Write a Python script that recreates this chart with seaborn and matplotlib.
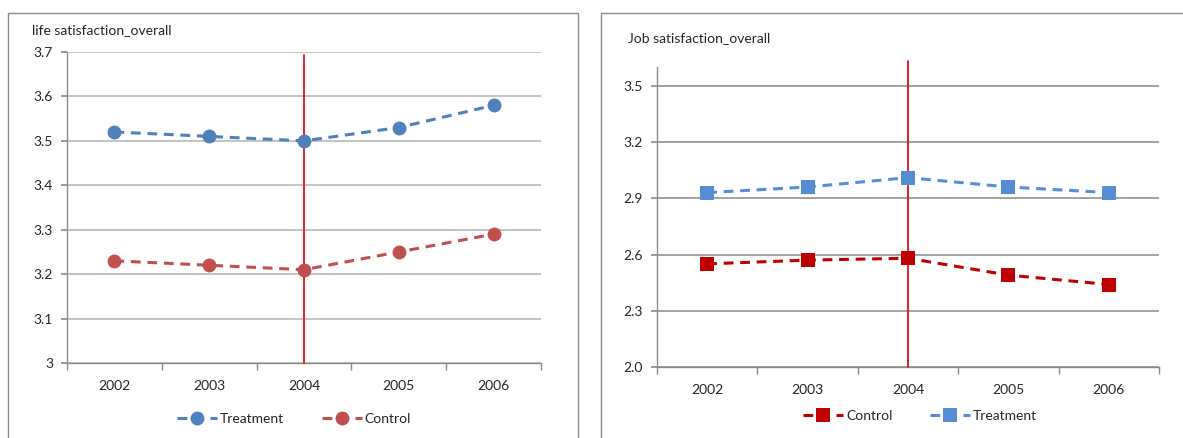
import matplotlib
matplotlib.use("Agg")
import matplotlib.pyplot as plt
from matplotlib.patches import Rectangle
from matplotlib.ticker import FixedLocator
import seaborn as sns
import pandas as pd

years = ["2002", "2003", "2004", "2005", "2006"]
reform_year = "2004"

life_treatment = [3.52, 3.51, 3.50, 3.53, 3.58]
life_control = [3.23, 3.22, 3.21, 3.25, 3.29]
life_ticks = [3.0, 3.1, 3.2, 3.3, 3.4, 3.5, 3.6, 3.7]
life_ticklabels = ["3", "3.1", "3.2", "3.3", "3.4", "3.5", "3.6", "3.7"]

job_control = [2.55, 2.57, 2.58, 2.49, 2.44]
job_treatment = [2.93, 2.96, 3.01, 2.96, 2.93]
job_ticks = [2.0, 2.3, 2.6, 2.9, 3.2, 3.5]
job_ticklabels = ["2.0", "2.3", "2.6", "2.9", "3.2", "3.5"]

sns.set_theme(style="white")
plt.rcParams["font.family"] = ["Lato", "DejaVu Sans"]

W, H = 1183, 438
fig = plt.figure(figsize=(W / 100, H / 100), dpi=100)

# chart-area frames
fig.patches.append(Rectangle((8 / W, -0.05), (578 - 8) / W, 1.05 - 13 / H,
                             transform=fig.transFigure, fill=False,
                             edgecolor="#8c8c8c", linewidth=1.0))
fig.patches.append(Rectangle((601 / W, -0.05), 0.5, 1.05 - 13 / H,
                             transform=fig.transFigure, fill=False,
                             edgecolor="#8c8c8c", linewidth=1.0))

ax1 = fig.add_axes([67 / W, (H - 363) / H, (541 - 67) / W, (363 - 52) / H])
ax2 = fig.add_axes([657 / W, (H - 367) / H, (1159 - 657) / W, (367 - 67) / H])

text_color = "#262626"


def draw_panel(ax, series, ylim, ticks, ticklabels, grid_color, vline_top, marker, msize):
    for label, values, color in series:
        df = pd.DataFrame({"year": years, "value": values})
        sns.lineplot(data=df, x="year", y="value", ax=ax, color=color,
                     linestyle=(0, (3.2, 2.2)), linewidth=2.2, marker=marker,
                     markersize=msize, markeredgewidth=0, label=label,
                     sort=False, zorder=4)
    ax.set_xlim(-0.5, len(years) - 0.5)
    ax.set_ylim(*ylim)
    ax.set_yticks(ticks)
    ax.set_yticklabels(ticklabels)
    ax.yaxis.grid(True, color=grid_color, linewidth=1.1)
    ax.xaxis.grid(False)
    ax.set_axisbelow(True)
    ax.set_xlabel("")
    ax.set_ylabel("")
    for side in ("top", "right"):
        ax.spines[side].set_visible(False)
    for side in ("left", "bottom"):
        ax.spines[side].set_color("#8c8c8c")
        ax.spines[side].set_linewidth(1.0)
    ax.xaxis.set_minor_locator(FixedLocator([i - 0.5 for i in range(len(years) + 1)]))
    ax.tick_params(axis="x", which="major", length=0, pad=12, labelsize=10,
                   labelcolor=text_color)
    ax.tick_params(axis="x", which="minor", length=5, color="#8c8c8c",
                   direction="out", bottom=True)
    ax.tick_params(axis="y", which="major", length=4, color="#8c8c8c",
                   direction="out", left=True, pad=6, labelsize=10,
                   labelcolor=text_color)
    ax.axvline(years.index(reform_year), ymin=0, ymax=vline_top,
               color="#d9141c", linewidth=1.3, clip_on=False, zorder=3)
    ax.legend_.remove()


draw_panel(ax1,
           [("Treatment", life_treatment, "#4f81bd"),
            ("Control", life_control, "#c0504d")],
           (3.0, 3.7), life_ticks, life_ticklabels, "#b3b3b3", 0.99, "o", 10)
draw_panel(ax2,
           [("Control", job_control, "#c00000"),
            ("Treatment", job_treatment, "#558ed5")],
           (2.0, 3.6), job_ticks, job_ticklabels, "#8a8a8a", 1.02, "s", 10.5)

for ax, anchor in ((ax1, (0.479, -0.181)), (ax2, (0.524, -0.163))):
    handles, labels = ax.get_legend_handles_labels()
    ax.legend(handles, labels, loc="center", bbox_to_anchor=anchor, ncol=2,
              frameon=False, fontsize=10, handlelength=2.9, handletextpad=0.2,
              columnspacing=2.7, labelcolor=text_color)

fig.text(32 / W, (H - 30) / H, "life satisfaction_overall", fontsize=10,
         color=text_color, ha="left", va="center")
fig.text(628 / W, (H - 38) / H, "Job satisfaction_overall", fontsize=10,
         color=text_color, ha="left", va="center")

fig.savefig("out.png", dpi=100)
